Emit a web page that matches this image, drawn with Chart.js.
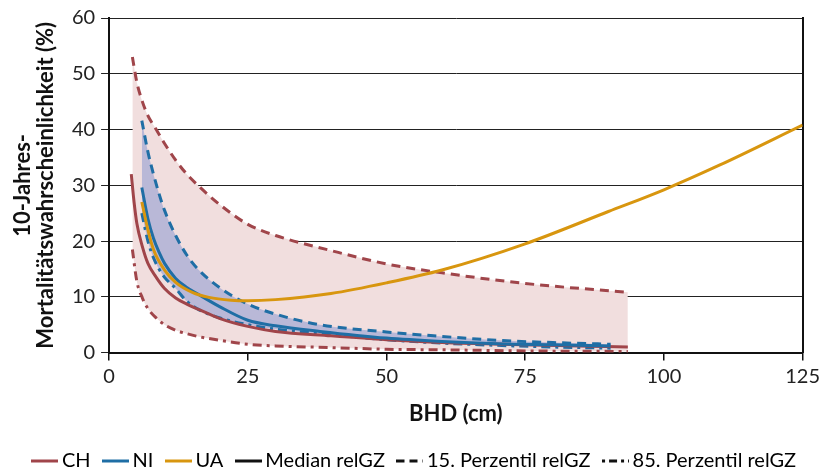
<!DOCTYPE html>
<html>
<head>
<meta charset="utf-8">
<script src="https://cdn.jsdelivr.net/npm/chart.js@4.4.1/dist/chart.umd.min.js"></script>
<style>
  body { margin: 0; background: #fff; }
  #wrap { width: 824px; height: 472px; }
</style>
</head>
<body>
<div id="wrap"><canvas id="mortChart" width="824" height="472"></canvas></div>
<script>
// BHD (cm) und 10-Jahres-Mortalitaet (%)
const chMedX = [4.0, 4.5, 5, 6, 7, 8.5, 10, 12, 14, 16, 20, 25, 30, 40, 50, 60, 75, 93.5];
const chMed  = [32, 27, 23.2, 19, 16, 13.5, 11.5, 9.8, 8.7, 7.8, 6.1, 4.7, 3.8, 3.0, 2.3, 1.8, 1.4, 1.0];

const chBandX = [4.2, 5, 6, 7, 8.5, 10, 12, 14, 16, 20, 25, 30, 40, 50, 60, 75, 93.5];
const chP15   = [53, 48.5, 45, 42.5, 40, 37.5, 34.5, 32, 30, 26.5, 23, 21, 18.3, 15.9, 14.3, 12.4, 10.8];
const chP85   = [18.5, 12.8, 9.8, 7.9, 6.2, 5.0, 4.0, 3.4, 2.9, 2.2, 1.5, 1.2, 0.9, 0.6, 0.5, 0.3, 0.2];

const niX   = [5.9, 7, 8, 9, 10, 12, 14, 16, 20, 25, 30, 38, 50, 60, 70, 80, 90.4];
const niMed = [29.6, 24, 20.5, 18, 16, 13.3, 11.7, 10.5, 8.2, 5.8, 4.8, 3.8, 2.6, 2.0, 1.6, 1.4, 1.2];
const niP15 = [41.6, 36, 32, 28.5, 25.5, 21, 17.5, 15, 11.6, 8.7, 6.9, 5.0, 3.7, 2.9, 2.2, 1.8, 1.5];
const niP85 = [25, 20, 17, 15, 13.5, 11.5, 9.2, 7.8, 6.2, 5.0, 4.2, 3.4, 2.3, 1.7, 1.3, 1.0, 0.8];

const uaX   = [5.9, 7, 8, 10, 12, 15, 18, 22, 25, 30, 40, 50, 60, 75, 90, 100, 110, 125];
const uaMed = [27, 22, 18.5, 14.8, 12.6, 10.8, 9.9, 9.4, 9.3, 9.5, 10.6, 12.5, 14.8, 19.5, 25.3, 29.2, 33.6, 40.8];

const xTicks = [0, 25, 50, 75, 100, 125];
const yTicks = [0, 10, 20, 30, 40, 50, 60];

const legendNames = ['CH', 'NI', 'UA', 'Median relGZ', '15. Perzentil relGZ', '85. Perzentil relGZ'];

const red = '#a0454a';
const blue = '#1f6ea5';
const orange = '#d8960f';
const pink = '#f1dede';
const lavender = '#b9b8d7';
const dash = [9, 6];
const dashDot = [9, 5, 3, 5];
const fontFam = "Lato, sans-serif";

function pts(xs, ys) {
  return xs.map(function(x, i) { return {x: x, y: ys[i]}; });
}

function lineSet(label, xs, ys, color, borderDash, fill, bg) {
  return {
    label: label,
    data: pts(xs, ys),
    borderColor: color,
    borderWidth: 3,
    borderDash: borderDash || [],
    pointRadius: 0,
    cubicInterpolationMode: 'monotone',
    fill: fill === undefined ? false : fill,
    backgroundColor: bg || 'transparent'
  };
}

// kleine Linienmuster fuer die Legende
function makeIcon(color, pattern) {
  const c = document.createElement('canvas');
  c.width = 27; c.height = 6;
  const g = c.getContext('2d');
  g.strokeStyle = color;
  g.lineWidth = 3;
  g.setLineDash(pattern);
  g.beginPath();
  g.moveTo(0, 3);
  g.lineTo(27, 3);
  g.stroke();
  return c;
}

const icons = [
  makeIcon(red, []),
  makeIcon(blue, []),
  makeIcon(orange, []),
  makeIcon('#111', []),
  makeIcon('#111', [8, 5]),
  makeIcon('#111', [3, 4, 8, 4])
];

const ctx = document.getElementById('mortChart').getContext('2d');
const chart = new Chart(ctx, {
  type: 'line',
  data: {
    datasets: [
      lineSet('UA', uaX, uaMed, orange),
      lineSet('NI', niX, niMed, blue),
      lineSet('CH', chMedX, chMed, red),
      lineSet('NI 15', niX, niP15, blue, dash, 4, lavender),
      lineSet('NI 85', niX, niP85, blue, dashDot),
      lineSet('CH 15', chBandX, chP15, red, dash, 6, pink),
      lineSet('CH 85', chBandX, chP85, red, dashDot)
    ]
  },
  options: {
    responsive: false,
    animation: false,
    layout: { padding: { top: 8, right: 2, left: 12, bottom: 0 } },
    scales: {
      x: {
        type: 'linear',
        min: 0,
        max: 125,
        afterBuildTicks: function(axis) { axis.ticks = xTicks.map(function(v) { return {value: v}; }); },
        ticks: { color: '#222', font: { family: fontFam, size: 20 }, padding: 4, maxRotation: 0 },
        grid: { drawOnChartArea: false, drawTicks: true, tickLength: 8, color: '#111', lineWidth: 1.5 },
        border: { color: '#111', width: 2 },
        title: { display: true, text: 'BHD (cm)', color: '#111', font: { family: fontFam, size: 22, weight: 'bold' }, padding: { top: 8, bottom: 6 } }
      },
      y: {
        min: 0,
        max: 60,
        afterBuildTicks: function(axis) { axis.ticks = yTicks.map(function(v) { return {value: v}; }); },
        ticks: { color: '#222', font: { family: fontFam, size: 20 }, padding: 6 },
        grid: { color: '#222', lineWidth: 1, tickLength: 8 },
        border: { color: '#111', width: 2 },
        title: { display: true, text: ['10-Jahres-', 'Mortalitätswahrscheinlichkeit (%)'], color: '#111', font: { family: fontFam, size: 22, weight: 'bold', lineHeight: 1.02 }, padding: { top: 0, bottom: 9 } }
      },
      y2: {
        position: 'right',
        min: 0,
        max: 60,
        ticks: { display: false },
        grid: { drawOnChartArea: false, drawTicks: false },
        border: { color: '#111', width: 2 }
      }
    },
    plugins: {
      filler: { drawTime: 'beforeDatasetsDraw' },
      tooltip: { enabled: false },
      legend: {
        position: 'bottom',
        onClick: null,
        maxHeight: 39,
        labels: {
          usePointStyle: true,
          pointStyleWidth: 14,
          padding: 18,
          color: '#222',
          font: { family: fontFam, size: 20 },
          generateLabels: function() {
            return legendNames.map(function(name, i) {
              return { text: name, pointStyle: icons[i], fillStyle: 'transparent', strokeStyle: 'transparent', lineWidth: 0, hidden: false };
            });
          }
        }
      }
    }
  }
});
</script>
</body>
</html>
